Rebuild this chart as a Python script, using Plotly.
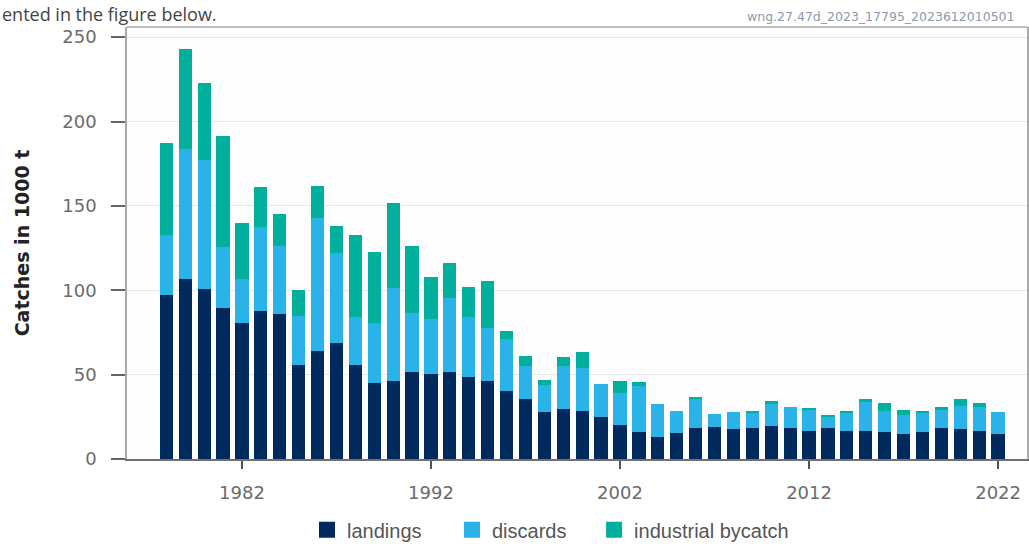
import plotly.graph_objects as go

years = list(range(1978, 2023))
landings = [97.3, 106.8, 100.7, 89.2, 80.6, 87.7, 85.9, 55.7, 64.2, 68.7,
            55.7, 45.0, 46.0, 51.5, 50.5, 51.3, 48.6, 46.0, 40.5, 35.5,
            27.6, 29.8, 28.2, 24.9, 20.3, 16.0, 13.0, 15.2, 18.4, 19.0,
            17.8, 18.1, 19.7, 18.1, 16.8, 18.1, 16.8, 16.8, 16.0, 15.0,
            16.0, 18.1, 17.8, 16.6, 15.0]
discards = [35.6, 77.0, 76.6, 36.2, 26.2, 49.7, 40.6, 29.2, 78.9, 53.3,
            28.4, 35.6, 55.3, 35.0, 32.6, 44.4, 35.3, 31.6, 30.6, 19.4,
            16.4, 25.1, 25.7, 19.7, 18.8, 27.0, 19.8, 13.3, 17.2, 7.8,
            9.8, 9.7, 12.6, 12.5, 12.6, 7.2, 11.0, 16.8, 12.6, 11.1,
            11.8, 10.7, 13.4, 14.2, 12.6]
bycatch = [54.6, 59.1, 45.4, 66.1, 33.0, 23.5, 18.8, 15.0, 18.4, 16.2,
           48.4, 42.0, 50.7, 39.9, 24.7, 20.4, 17.8, 27.6, 4.5, 6.3,
           3.0, 5.3, 9.3, 0.0, 6.9, 2.6, 0.0, 0.0, 0.9, 0.0,
           0.0, 0.8, 1.8, 0.0, 0.6, 0.5, 0.8, 2.1, 4.6, 2.7,
           0.8, 1.8, 4.3, 2.4, 0.0]
series_names = ["landings", "discards", "industrial bycatch"]
colors = ["#002a5e", "#29b3e8", "#00b09c"]
x_ticks = [1982, 1992, 2002, 2012, 2022]
y_ticks = [0, 50, 100, 150, 200, 250]

fig = go.Figure()
for name, vals, col in zip(series_names, [landings, discards, bycatch], colors):
    fig.add_trace(go.Bar(x=years, y=vals, name=name, showlegend=False,
                         marker=dict(color=col, line=dict(width=0))))
# legend entries with larger square swatches
legend_refs = ["legend", "legend", "legend2"]
for name, col, lg in zip(series_names, colors, legend_refs):
    fig.add_trace(go.Scatter(x=[None], y=[None], mode="markers", name=name, legend=lg,
                             marker=dict(symbol="square", size=16, color=col, line=dict(width=0))))

legend_font = dict(family="Liberation Sans", size=20, color="#555555")
fig.update_layout(
    barmode="stack",
    bargap=0.3,
    width=1029, height=544,
    margin=dict(l=127, r=2, t=27, b=85, autoexpand=False),
    paper_bgcolor="#ffffff",
    plot_bgcolor="#fdfdfd",
    font=dict(family="DejaVu Sans", color="#6b6b6b"),
    legend=dict(orientation="h", x=0.2, xanchor="left", y=-0.164, yanchor="middle",
                font=legend_font, traceorder="normal", bgcolor="rgba(0,0,0,0)",
                itemsizing="trace", entrywidth=100, entrywidthmode="pixels"),
    legend2=dict(orientation="h", x=0.519, xanchor="left", y=-0.164, yanchor="middle",
                 font=legend_font, bgcolor="rgba(0,0,0,0)", itemsizing="trace"),
    annotations=[
        dict(text="ented in the figure below.", xref="paper", yref="paper",
             x=-0.141, y=1.0625, xanchor="left", yanchor="top", showarrow=False,
             font=dict(family="Open Sans", size=18, color="#444444")),
        dict(text="wng.27.47d_2023_17795_2023612010501", xref="paper", yref="paper",
             x=0.687, y=1.025, xanchor="left", yanchor="middle", showarrow=False,
             font=dict(family="DejaVu Sans", size=12.5, color="#8a9ab0")),
    ],
    shapes=[
        dict(type="line", xref="paper", yref="paper", x0=0, x1=1, y0=1, y1=1,
             line=dict(color="#aaaaaa", width=1.5)),
    ],
)
fig.update_xaxes(
    range=[1975.92, 2023.53],
    tickvals=x_ticks, ticktext=[str(v) for v in x_ticks],
    ticks="outside", ticklen=8, tickcolor="#555555", tickwidth=1.5,
    showline=True, linecolor="#707070", linewidth=2, mirror=False,
    showgrid=False, zeroline=False,
    tickfont=dict(size=18, color="#6b6b6b"),
    ticklabelstandoff=8,
)
fig.update_yaxes(
    range=[0, 256],
    tickvals=y_ticks,
    ticks="outside", ticklen=14, tickcolor="#666666", tickwidth=1.5,
    showline=True, linecolor="#aaaaaa", linewidth=1.5, mirror=True,
    showgrid=True, gridcolor="#e6e6e6", gridwidth=1, zeroline=False,
    tickfont=dict(size=18, color="#6b6b6b"),
    ticklabelstandoff=11,
    title=dict(text="<b>Catches in 1000 t</b>", font=dict(family="DejaVu Sans", size=19, color="#222222"), standoff=28),
)

fig.write_html(
    "out.html",
    config={"displayModeBar": False},
    post_script=(
        "document.documentElement.style.overflow='hidden';"
        "document.body.style.margin='0px';"
        "document.body.style.overflow='hidden';"
    ),
)
